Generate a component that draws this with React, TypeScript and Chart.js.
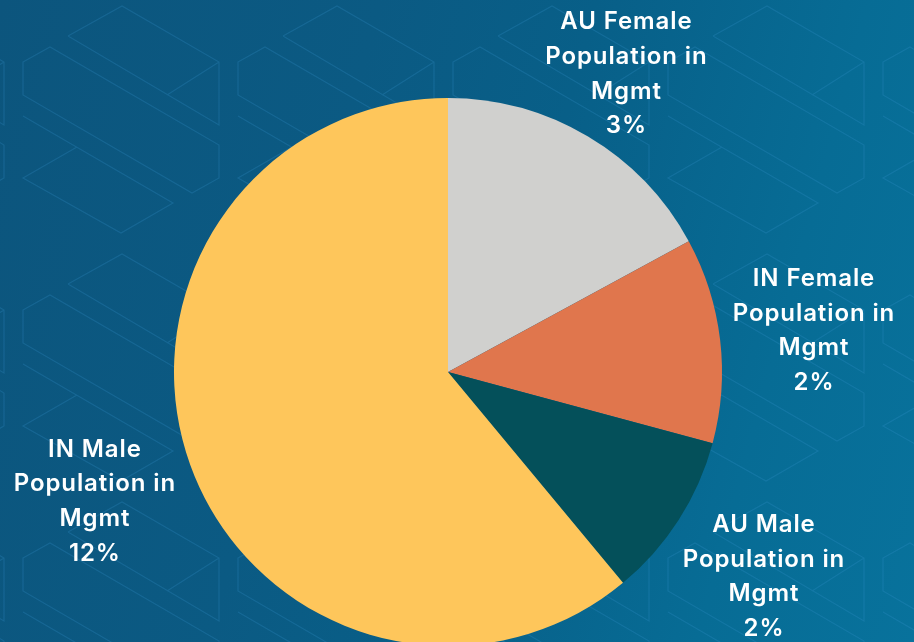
import React, { useEffect, useRef } from "react";
import { Chart, registerables } from "chart.js";

Chart.register(...registerables);

const categories = [
  ["AU Female", "Population in", "Mgmt"],
  ["IN Female", "Population in", "Mgmt"],
  ["AU Male", "Population in", "Mgmt"],
  ["IN Male", "Population in", "Mgmt"],
];
const values = [3.33, 2.36, 1.91, 11.9];
const colors = ["#d0d0ce", "#e0764d", "#04505a", "#fec65b"];
const labelDistance = [1.274, 1.345, 1.37, 1.37];

const FONT = "600 24px Inter, 'DejaVu Sans', sans-serif";

const patternPlugin = {
  id: "bgPattern",
  beforeDraw(chart: any) {
    const ctx = chart.ctx;
    ctx.save();
    ctx.strokeStyle = "rgba(60,150,210,0.24)";
    ctx.lineWidth = 1.2;
    const pw = 215;
    const ph = 248;
    for (let ty = -1; ty < 4; ty++) {
      for (let tx = -1; tx < 5; tx++) {
        const ox = tx * pw + 23;
        const oy = ty * ph + 62;
        ctx.beginPath();
        ctx.moveTo(ox, oy);
        ctx.lineTo(ox + 27, oy - 15);
        ctx.lineTo(ox + 196, oy + 83);
        ctx.lineTo(ox + 196, oy + 116);
        ctx.lineTo(ox + 169, oy + 131);
        ctx.lineTo(ox, oy + 33);
        ctx.closePath();
        ctx.stroke();
        ctx.beginPath();
        ctx.moveTo(ox + 45, oy - 26);
        ctx.lineTo(ox + 99, oy - 56);
        ctx.lineTo(ox + 196, oy);
        ctx.lineTo(ox + 196, oy + 63);
        ctx.lineTo(ox + 45, oy - 26);
        ctx.moveTo(ox + 144, oy + 33);
        ctx.lineTo(ox + 196, oy);
        ctx.stroke();
        ctx.beginPath();
        ctx.moveTo(ox, oy + 54);
        ctx.lineTo(ox + 150, oy + 141);
        ctx.lineTo(ox + 98, oy + 171);
        ctx.lineTo(ox, oy + 116);
        ctx.lineTo(ox + 54, oy + 85);
        ctx.stroke();
      }
    }
    ctx.restore();
  },
};

const outerLabels = {
  id: "outerLabels",
  afterDatasetsDraw(chart: any) {
    const ctx = chart.ctx;
    const meta = chart.getDatasetMeta(0);
    const data = chart.data.datasets[0].data as number[];
    ctx.save();
    ctx.fillStyle = "#ffffff";
    ctx.font = FONT;
    try {
      (ctx as any).letterSpacing = "0.9px";
    } catch (e) {}
    ctx.textAlign = "center";
    ctx.textBaseline = "middle";
    const lh = 34.7;
    meta.data.forEach((arc: any, i: number) => {
      const p = arc.getProps(["x", "y", "startAngle", "endAngle", "outerRadius"], true);
      const mid = (p.startAngle + p.endAngle) / 2;
      const r = p.outerRadius * labelDistance[i];
      const cx = p.x + Math.cos(mid) * r;
      const cy = p.y + Math.sin(mid) * r + 2;
      const lines = [...categories[i], Math.round(data[i]) + "%"];
      const top = cy - ((lines.length - 1) * lh) / 2;
      lines.forEach((t, k) => ctx.fillText(t, cx, top + k * lh));
    });
    ctx.restore();
  },
};

export default function App() {
  const ref = useRef<HTMLCanvasElement>(null);
  useEffect(() => {
    document.body.style.margin = "0";
    document.body.style.overflow = "hidden";
    const chart = new Chart(ref.current!, {
      type: "pie",
      data: {
        labels: categories.map((c) => c.join(" ")),
        datasets: [
          {
            data: values,
            backgroundColor: colors,
            borderWidth: 0,
          },
        ],
      },
      options: {
        responsive: false,
        animation: false,
        layout: { padding: { top: 98, bottom: 98, left: 174, right: 192 } },
        plugins: { legend: { display: false }, tooltip: { enabled: false } },
      },
      plugins: [patternPlugin, outerLabels],
    });
    return () => chart.destroy();
  }, []);
  return (
    <div
      style={{
        position: "fixed",
        left: 0,
        top: 0,
        width: 914,
        height: 642,
        overflow: "hidden",
        background:
          "linear-gradient(105deg, #0c557d 0%, #0b5a83 35%, #085f88 55%, #076c95 80%, #08729c 100%)",
      }}
    >
      <canvas ref={ref} width={914} height={744} style={{ display: "block" }} />
    </div>
  );
}
